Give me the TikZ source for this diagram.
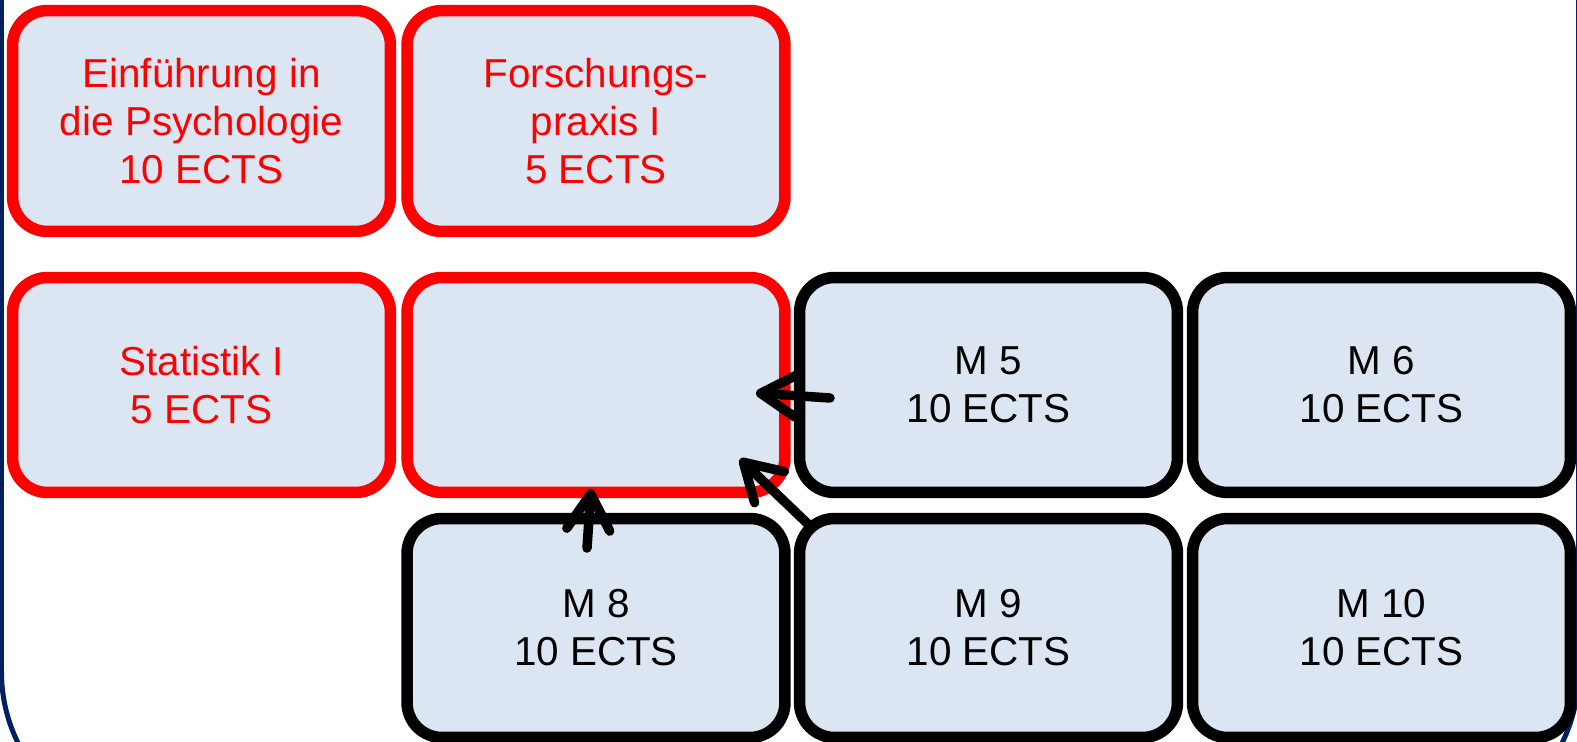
\documentclass[tikz,border=0pt]{standalone}
\usepackage{fontspec}
\setmainfont{Liberation Sans}
\usetikzlibrary{arrows.meta}
\definecolor{boxfill}{RGB}{220,230,242}
\definecolor{navyframe}{RGB}{0,32,96}
\definecolor{pureRed}{RGB}{255,0,0}
\tikzset{
  box/.style={draw, line width=0.23cm, rounded corners=0.7cm, fill=boxfill,
    minimum width=7.56cm, align=center, inner sep=0pt,
    font=\fontsize{23}{27.3}\selectfont},
  redbox/.style={box, draw=pureRed, text=pureRed},
  blackbox/.style={box, draw=black, text=black},
  row1/.style={minimum height=4.42cm},
  row2/.style={minimum height=4.3cm},
  row3/.style={minimum height=4.38cm},
  dep/.style={draw=black, line width=0.19cm, line cap=round,
    -{Straight Barb[length=0.72cm,width=0.86cm,round]}},
}
\begin{document}
\begin{tikzpicture}[x=0.02cm,y=-0.02cm]
\useasboundingbox (0,0) rectangle (1577,741);
\clip (0,0) rectangle (1577,741);
% frame
\draw[navyframe, line width=0.1cm, rounded corners=3.2cm] (1.5,-300) rectangle (1578.6,832);
% row 1
\node[redbox,row1] (einf) at (201.5,121) {Einführung in\\die Psychologie\\10 ECTS};
\node[redbox,row1] (forsch) at (596,121) {Forschungs-\\praxis I\\5 ECTS};
% row 2
\node[redbox,row2] (stat) at (201.5,385) {Statistik I\\5 ECTS};
\node[redbox,row2] (empty) at (596,385) {};
\node[blackbox,row2] (m5) at (988.5,385) {M 5\\10 ECTS};
\node[blackbox,row2] (m6) at (1381.5,385) {M 6\\10 ECTS};
% row 3
\node[blackbox,row3] (m8) at (596,628) {M 8\\10 ECTS};
\node[blackbox,row3] (m9) at (988.5,628) {M 9\\10 ECTS};
\node[blackbox,row3] (m10) at (1381.5,628) {M 10\\10 ECTS};
% arrow ends
\coordinate (a1s) at (830,398);
\coordinate (a1e) at (756,393);
\coordinate (a2s) at (808,524);
\coordinate (a2e) at (740,459);
\coordinate (a3s) at (587,548);
\coordinate (a3e) at (591,489);
\draw[dep] (a1s) -- (a1e);
\draw[dep] (a2s) -- (a2e);
\draw[dep] (a3s) -- (a3e);
\end{tikzpicture}
\end{document}
